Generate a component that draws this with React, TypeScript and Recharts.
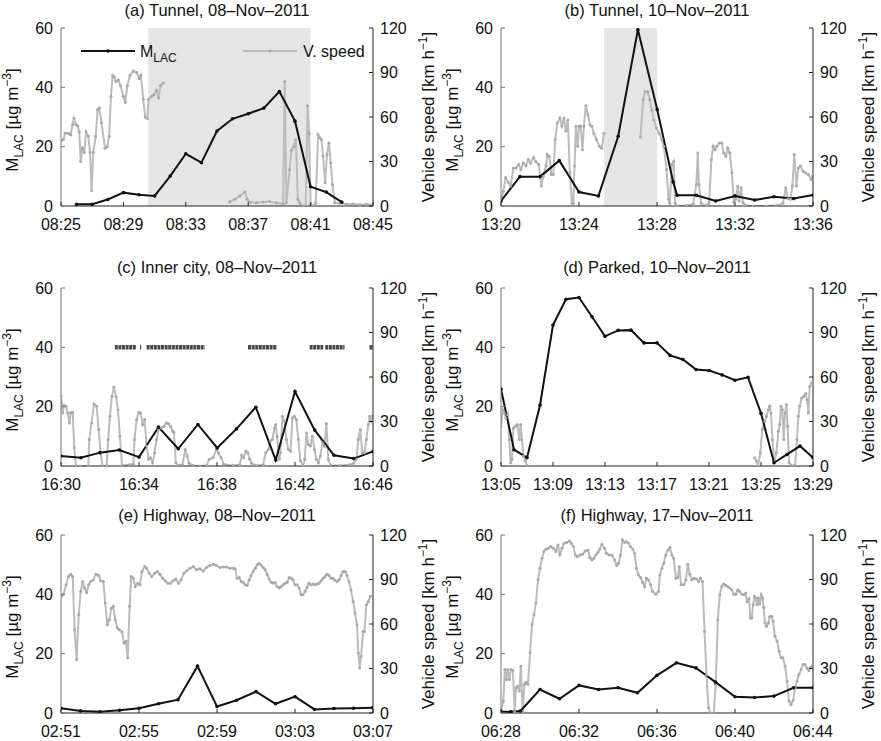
import React from 'react';
import { ComposedChart, Line, XAxis, YAxis, ReferenceArea } from 'recharts';

type Pt = [number, number];

const FONT = "'Liberation Sans', Arial, Helvetica, sans-serif";
const W = 440;
const H = 240;
const BLACK = '#111111';
const GRAY = '#bcbcbc';
const GRAY_DOT = '#a9a9a9';

// ---------- Panel (a) Tunnel 08-Nov-2011 ----------
const ticksA = [0, 4, 8, 12, 16, 20];
const labelsA = ['08:25', '08:29', '08:33', '08:37', '08:41', '08:45'];
const shadeA: Pt = [5.59, 15.99];
const mlacA: Pt[] = [[1,0.6],[2,0.6],[3,2.2],[4,4.5],[5,3.8],[6,3.4],[7,10.1],[8,17.6],[9,14.6],[10,25.3],[11,29.4],[12,31.1],[13,33],[14,38.6],[15,28.6],[16,6.5],[17,4.7],[18,1.3]];
const speedA1: Pt[] = [[0,43.7],[0.15,44.8],[0.26,49],[0.47,49],[0.62,48],[0.75,55],[0.83,59],[0.96,55],[1.07,54],[1.17,50],[1.26,30],[1.37,39],[1.49,36],[1.6,50],[1.75,47],[1.86,36],[1.96,10.5],[2.07,36],[2.22,47],[2.35,65],[2.45,66],[2.6,56],[2.82,39],[2.97,40],[3.09,47],[3.2,74],[3.31,88],[3.42,87],[3.52,84],[3.67,85],[3.82,81],[3.99,74],[4.12,70],[4.25,81],[4.42,88],[4.63,91],[4.85,90],[5.02,86],[5.12,88],[5.27,72],[5.4,60],[5.53,59],[5.61,72],[5.81,74],[5.96,75],[6.13,78],[6.25,73],[6.38,81],[6.55,83]];
const speedA2: Pt[] = [[10.82,2.9],[11.14,4.5],[11.46,6.7],[11.78,9.4],[11.93,4.5],[12.1,2.7],[12.53,2.2],[12.96,2.7],[13.38,3.1],[13.81,2],[14.24,1.6],[14.34,84],[14.45,2.2],[14.66,24.6],[14.77,37.6],[14.92,40],[15.05,44.8],[15.18,4.5],[15.3,2.2],[15.47,0],[15.69,0.4],[15.8,67.6],[15.9,49],[16.01,1],[16.16,0],[16.33,1.8],[16.48,48],[16.58,46],[16.69,44.8],[16.8,33.6],[16.93,15.7],[17.05,34.7],[17.18,42.5],[17.29,29],[17.4,14.5],[17.55,2.2],[17.87,1.8],[18.3,1.1],[18.72,1.3],[19.15,0.9],[19.57,1.1],[20,0.9]];

// ---------- Panel (b) Tunnel 10-Nov-2011 ----------
const ticksB = [0, 4, 8, 12, 16];
const labelsB = ['13:20', '13:24', '13:28', '13:32', '13:36'];
const shadeB: Pt = [5.29, 8.01];
const mlacB: Pt[] = [[0,1.7],[0.97,9.9],[2,9.9],[2.99,15.3],[4,4.7],[5,3.4],[6.01,23.5],[7.02,59.4],[8.01,32.5],[8.83,8.1],[9.03,3.6],[10.02,3.6],[11.01,1.7],[12,3.4],[13.01,2],[14,3.1],[15.01,2.5],[16,3.7]];
const speedB1: Pt[] = [[0,3.4],[0.12,10],[0.24,19],[0.38,16],[0.5,13.4],[0.63,25.7],[0.77,25.7],[0.91,28],[1.02,24.6],[1.14,29],[1.28,27],[1.4,31.3],[1.52,29],[1.66,32.5],[1.79,29.8],[1.93,28],[2.07,13.4],[2.17,20],[2.31,27.3],[2.37,34.7],[2.48,33.6],[2.58,21.3],[2.68,21.3],[2.78,44.8],[2.89,56],[3.02,59.3],[3.12,54],[3.23,59.3],[3.33,50.4],[3.43,58],[3.53,22.4],[3.64,1.8],[3.71,1.8],[3.77,27],[3.84,53.7],[3.93,40.3],[4,53.7],[4.08,54],[4.18,38],[4.25,53.7],[4.35,67.6],[4.46,61.6],[4.56,54.8],[4.66,53.7],[4.76,49],[4.9,44.8],[5.04,40.3],[5.17,39],[5.28,49]];
const speedB2: Pt[] = [[7.15,46.6],[7.29,71.6],[7.39,77],[7.53,77],[7.63,71.6],[7.74,64.5],[7.84,58],[7.97,52.6],[8.11,49],[8.25,44.8],[8.35,40.3],[8.49,24.6],[8.59,4.5],[8.66,1.8],[8.76,28],[8.86,30.2],[8.93,1.8],[9.03,0],[9.51,0.4],[9.85,1.1],[10.02,14.5],[10.09,35.8],[10.15,14.5],[10.26,1.8],[10.54,0.4],[10.67,1.8],[10.79,31.3],[10.88,40.3],[10.98,38],[11.08,40.3],[11.19,42.5],[11.32,42.5],[11.42,35.8],[11.53,33.6],[11.63,39],[11.73,35.8],[11.84,22.4],[11.94,2.7],[12.04,4.5],[12.14,13.4],[12.21,3.4],[12.31,12.3],[12.41,2.2],[12.55,0.4],[12.93,0],[13.6,0],[14.12,0.4],[14.46,1.8],[14.6,12.3],[14.72,4.9],[14.84,4.5],[14.94,13.4],[15.04,34.7],[15.15,13.4],[15.25,25.7],[15.35,26.9],[15.49,23.5],[15.62,22.4],[15.76,21.3],[15.9,17.9],[16,21.3]];

// ---------- Panel (c) Inner city 08-Nov-2011 ----------
const ticksC = [0, 4, 8, 12, 16];
const labelsC = ['16:30', '16:34', '16:38', '16:42', '16:46'];
const mlacC: Pt[] = [[0,3.35],[1.02,2.8],[2,4.5],[2.99,5.4],[4,3],[5,13.1],[6.01,5.8],[7.02,14],[8.01,6.1],[9,12.5],[9.99,19.8],[11.01,2],[12,25.1],[13.01,12.1],[14,3.6],[15.01,2.5],[16,4.9]];
const speedC: Pt[] = [[0,47],[0.09,35.8],[0.15,40.9],[0.26,40.2],[0.34,35.8],[0.43,29],[0.5,36],[0.6,36],[0.68,12.3],[0.77,0],[0.97,0],[1.4,0],[1.45,17.9],[1.57,29],[1.69,41.8],[1.83,40.2],[1.93,24.6],[2.03,8.9],[2.13,0],[2.34,0],[2.42,17.9],[2.51,33.5],[2.61,47],[2.71,53.2],[2.82,47],[2.92,38],[3.02,20],[3.13,0.4],[3.53,0.9],[3.71,1.1],[3.77,17.9],[3.88,31.3],[3.98,36.2],[4.08,35.8],[4.18,28],[4.29,31.3],[4.39,13.4],[4.49,4.5],[4.59,5.6],[4.7,2.2],[4.8,8.9],[4.9,17.9],[5,24.6],[5.14,25.7],[5.28,26.8],[5.41,29],[5.52,28.5],[5.62,26.8],[5.72,23.5],[5.79,22.8],[5.89,2.2],[6,0.4],[6.23,0.9],[6.37,11.2],[6.47,6.7],[6.57,1.8],[6.78,0.4],[7.12,0],[7.46,0.4],[7.6,4.5],[7.8,5.6],[7.97,11.2],[8.08,8.9],[8.21,5.6],[8.35,1.1],[8.83,0.4],[9.17,0.9],[9.27,7.2],[9.37,5.6],[9.48,10.1],[9.58,8.9],[9.68,4.5],[9.78,1.8],[10.02,0.4],[10.37,0.9],[10.5,8.9],[10.64,11.2],[10.74,16.8],[10.84,17.9],[10.95,25.7],[11.01,28],[11.08,20],[11.19,4.5],[11.25,8.9],[11.36,33.5],[11.46,30.2],[11.56,17.9],[11.66,11.2],[11.77,10.1],[11.87,32.4],[11.97,33.5],[12.07,31.3],[12.17,17.9],[12.28,3.4],[12.41,0.4],[12.5,4.5],[12.59,22.3],[12.69,14.5],[12.79,13.4],[12.89,20],[13,11.2],[13.1,4.5],[13.2,2.2],[13.3,6.7],[13.41,15.6],[13.51,13.4],[13.61,28.6],[13.71,4.5],[13.82,0.4],[14.29,0.4],[14.8,0.9],[15.01,1.8],[15.15,4.5],[15.25,17.9],[15.35,24.6],[15.45,8.9],[15.56,8.9],[15.66,17.9],[15.76,28],[15.83,33.5],[15.91,30.2],[16,35.8]];
// stretches of "x" markers drawn at M_LAC = 40 (start, end in minutes)
const markerBandsC: Pt[] = [[2.76,3.87],[4.05,4.11],[4.39,7.37],[9.59,11.08],[12.75,13.45],[13.55,14.54],[15.82,16]];
const markerLevelC = 40;

// ---------- Panel (d) Parked 10-Nov-2011 ----------
const ticksD = [0, 4, 8, 12, 16, 20, 24];
const labelsD = ['13:05', '13:09', '13:13', '13:17', '13:21', '13:25', '13:29'];
const mlacD: Pt[] = [[0,25.9],[1,5.5],[2,2.8],[3,20.5],[4,47.5],[5,56.2],[6,56.8],[7,50.3],[8,43.7],[9,45.7],[10,45.8],[11,41.5],[12,41.5],[13,37.3],[14,35.9],[15,32.5],[16,32.2],[17,30.7],[18,28.9],[19,29.9],[20,17.8],[21,1.1],[22,3.9],[23,6.7],[24,2.8]];
const speedD1: Pt[] = [[0,26.8],[0.13,38],[0.26,35.8],[0.38,32.4],[0.51,34.6],[0.64,17.9],[0.74,2.2],[0.85,4.5],[0.95,25.7],[1.1,26.8],[1.25,27.9],[1.41,17.9],[1.51,27.9],[1.61,17.9],[1.72,6.7],[1.87,3.4],[2.02,0.4]];
const speedD2: Pt[] = [[19.52,5.6],[19.65,3.4],[19.77,0],[19.95,8.9],[20.1,24.6],[20.29,30.2],[20.42,33.5],[20.57,38],[20.67,40.2],[20.77,35.8],[20.88,17.9],[21.03,2.2],[21.18,8.9],[21.34,23.5],[21.44,27.9],[21.54,40.2],[21.64,38],[21.75,17.9],[21.85,35.8],[21.95,41.3],[22.05,26.8],[22.16,2.2],[22.36,0.4],[22.62,0.4],[22.77,17.9],[22.87,33.5],[22.98,40.2],[23.13,45.8],[23.28,46.9],[23.44,48.7],[23.54,44.7],[23.64,35.8],[23.75,53.6],[23.9,55.9],[24,57]];

// ---------- Panel (e) Highway 08-Nov-2011 ----------
const ticksE = [0, 4, 8, 12, 16];
const labelsE = ['02:51', '02:55', '02:59', '03:03', '03:07'];
const mlacE: Pt[] = [[0,1.6],[1,0.7],[2,0.4],[3,0.9],[4,1.6],[5,3.1],[6,4.5],[7,15.8],[8,2.2],[9,4.3],[10,7.2],[11,3.1],[12,5.5],[13,1.2],[14,1.5],[15,1.6],[16,1.8]];
const speedE: Pt[] = [[0,78.6],[0.12,79.7],[0.26,86.4],[0.38,92],[0.5,93.6],[0.6,92],[0.7,56.2],[0.8,36],[0.91,66.3],[1.01,82],[1.11,88.6],[1.21,84.2],[1.31,81.3],[1.42,86.4],[1.52,88.6],[1.66,89.8],[1.79,93.6],[1.93,92.7],[2.03,89.1],[2.17,88.6],[2.27,74.1],[2.37,59.5],[2.48,62.9],[2.58,70.7],[2.68,71.9],[2.78,62.9],[2.89,57.3],[2.99,56.2],[3.13,54.6],[3.23,47.2],[3.33,48.4],[3.42,37.2],[3.52,71.9],[3.6,92],[3.71,90.9],[3.81,85.3],[3.94,87.5],[4.05,86.4],[4.15,95.4],[4.29,98.7],[4.39,97.6],[4.53,94.2],[4.66,92],[4.8,94.2],[4.94,95.4],[5.07,93.6],[5.21,90.9],[5.34,89.1],[5.48,87.5],[5.62,87.5],[5.75,89.1],[5.89,90.4],[6.03,87.5],[6.16,89.8],[6.3,94.2],[6.44,95.8],[6.61,97.6],[6.78,98.7],[6.95,96.5],[7.12,97.2],[7.29,95.8],[7.46,98.1],[7.63,99.4],[7.8,100.3],[7.97,99.4],[8.15,98.1],[8.32,98.5],[8.49,98.5],[8.66,97.6],[8.83,97.6],[8.93,97.2],[9.03,90.9],[9.14,91.3],[9.24,88.6],[9.34,88.2],[9.44,86.4],[9.55,86],[9.65,89.8],[9.75,92.7],[9.85,95.4],[9.96,97.6],[10.06,99.8],[10.16,101],[10.26,99.8],[10.37,98.1],[10.47,96.5],[10.57,93.6],[10.67,90.4],[10.78,88.2],[10.88,87.5],[10.98,88],[11.08,85.3],[11.19,84.2],[11.29,85.3],[11.39,86.4],[11.49,87.5],[11.6,88.2],[11.7,91.3],[11.8,90.9],[11.9,89.8],[12,86.4],[12.11,86.4],[12.21,84.2],[12.31,79.7],[12.41,79.7],[12.52,81.9],[12.62,84.6],[12.72,87.5],[12.82,86.4],[12.93,86.9],[13.03,86.4],[13.13,86.9],[13.23,87.5],[13.34,89.1],[13.44,90.9],[13.54,92],[13.64,93.6],[13.75,92.7],[13.85,90.9],[13.95,90.9],[14.05,89.5],[14.16,88.6],[14.26,89.8],[14.36,92.7],[14.46,95.4],[14.57,95.4],[14.67,92.7],[14.77,88.6],[14.87,83],[14.98,75.2],[15.08,67.4],[15.18,59.5],[15.25,40.5],[15.32,30.4],[15.39,38.3],[15.49,55],[15.56,55],[15.66,73],[15.76,75.2],[15.86,78.6],[16,79.7]];

// ---------- Panel (f) Highway 17-Nov-2011 ----------
const ticksF = [0, 4, 8, 12, 16];
const labelsF = ['06:28', '06:32', '06:36', '06:40', '06:44'];
const mlacF: Pt[] = [[0,0.4],[0.5,0.4],[1,0.7],[2,7.9],[3,4.8],[4,9.3],[5,7.9],[6,8.5],[7,6.8],[8,12.7],[9,16.9],[10,15.2],[11,10.4],[12,5.5],[13,5.2],[14,5.7],[15,8.5],[16,8.5]];
const speedF: Pt[] = [[0,0.9],[0.12,8],[0.2,29.3],[0.27,22.6],[0.34,29.3],[0.43,22.6],[0.51,29.3],[0.61,28.7],[0.7,0.9],[0.77,17],[0.85,18.1],[0.94,14.8],[1.02,31.6],[1.11,0.9],[1.2,19.3],[1.28,20.8],[1.38,19.3],[1.49,40.5],[1.59,59.5],[1.69,66.3],[1.79,74.1],[1.9,89.8],[2,97.6],[2.1,104.3],[2.2,108.8],[2.31,110.4],[2.42,111],[2.54,112.2],[2.68,111],[2.82,108.8],[2.92,113.3],[3.02,107],[3.13,111],[3.23,114.4],[3.36,115],[3.5,116],[3.6,114.4],[3.71,112.2],[3.81,106.6],[3.91,105.4],[4.05,106.6],[4.18,107],[4.32,109.2],[4.46,109.9],[4.56,104.8],[4.66,103.2],[4.76,104.3],[4.87,106.6],[4.97,108.3],[5.07,110.6],[5.17,113.7],[5.31,111],[5.41,107.7],[5.55,106.6],[5.69,106.6],[5.82,103.2],[5.93,99.4],[6.03,101],[6.13,106.6],[6.23,116.6],[6.34,115],[6.44,115.5],[6.54,114.4],[6.64,112.2],[6.75,110.6],[6.85,107.7],[6.95,97.6],[7.05,93.1],[7.16,91.3],[7.26,88],[7.36,85.3],[7.46,90.9],[7.56,89.8],[7.67,86.4],[7.77,81.9],[7.94,80.1],[8.08,81.9],[8.15,93.1],[8.25,97.6],[8.35,101],[8.45,106.6],[8.56,109.9],[8.66,111.5],[8.76,106.6],[8.86,104.3],[8.97,90.9],[9.07,91.3],[9.14,98.7],[9.24,86.4],[9.38,86.4],[9.48,89.8],[9.58,100.3],[9.68,93.6],[9.78,89.8],[9.89,90.9],[10.02,90.4],[10.13,88.6],[10.23,90.9],[10.33,88.6],[10.44,55],[10.54,25.7],[10.64,3.6],[10.74,0],[10.91,0],[11.01,18.8],[11.12,62.9],[11.22,79.7],[11.32,85.3],[11.42,86.9],[11.53,86],[11.63,85.3],[11.73,84.2],[11.84,83],[11.94,80.1],[12.04,80.1],[12.14,83],[12.24,81.9],[12.35,80.1],[12.45,79.7],[12.55,80.8],[12.62,75.2],[12.72,77],[12.79,64],[12.86,64],[12.93,73],[13,78.6],[13.06,77.5],[13.13,73],[13.2,77.5],[13.27,73.4],[13.34,79.7],[13.41,77.5],[13.47,71.2],[13.54,60.6],[13.61,58.4],[13.71,60.6],[13.78,65.1],[13.88,65.1],[13.95,61.8],[14.05,51.7],[14.16,48.4],[14.26,41.6],[14.36,37.2],[14.46,37.2],[14.57,31.6],[14.67,21.5],[14.77,8.1],[14.87,5.8],[14.98,8.5],[15.08,17],[15.18,21.5],[15.28,26],[15.39,29.3],[15.49,32.7],[15.59,32.7],[15.69,30.4],[15.79,28.7],[15.89,31],[16,32.7]];

const leftTicks = [0, 20, 40, 60];
const rightTicks = [0, 30, 60, 90, 120];

const toObj = (arr: Pt[]) => arr.map(([t, v]) => ({ t, v }));

function makeXTick(ticks: number[], labels: string[]) {
  return (props: any) => {
    const { x, y, payload } = props;
    const i = ticks.indexOf(payload.value);
    return (
      <g>
        <line x1={x} y1={y} x2={x} y2={y - 4} stroke="#222" strokeWidth={1} />
        <text x={x} y={y + 18} dy="0.35em" textAnchor="middle" fontSize={16} fill="#111" fontFamily={FONT}>
          {i >= 0 ? labels[i] : ''}
        </text>
      </g>
    );
  };
}

const LeftTick = (props: any) => {
  const { x, y, payload } = props;
  return (
    <g>
      <line x1={x} y1={y} x2={x + 4} y2={y} stroke="#777" strokeWidth={1} />
      <text x={x - 8} y={y} dy="0.35em" textAnchor="end" fontSize={16} fill="#111" fontFamily={FONT}>
        {payload.value}
      </text>
    </g>
  );
};

const RightTick = (props: any) => {
  const { x, y, payload } = props;
  return (
    <g>
      <line x1={x} y1={y} x2={x - 4} y2={y} stroke="#222" strokeWidth={1} />
      <text x={x + 7} y={y} dy="0.35em" textAnchor="start" fontSize={16} fill="#111" fontFamily={FONT}>
        {payload.value}
      </text>
    </g>
  );
};

type PanelProps = {
  left: number;
  top: number;
  titleY: number;
  title: string;
  xMax: number;
  ticks: number[];
  labels: string[];
  mlac: Pt[];
  speed: Pt[][];
  shade?: Pt;
  bands?: Pt[];
  bandLevel?: number;
  legend?: boolean;
};

const PLOT_L = 61;
const PLOT_R = 373;
const PLOT_T = 28;
const PLOT_B = 206;

function Panel(p: PanelProps) {
  const cx = (PLOT_L + PLOT_R) / 2;
  const cy = (PLOT_T + PLOT_B) / 2;
  const lx = 12;
  const ly = cy + 3;
  const rx = 428;
  const ry = cy;
  return (
    <div style={{ position: 'absolute', left: p.left, top: p.top, width: W, height: H }}>
      <ComposedChart width={W} height={H} margin={{ top: PLOT_T, right: 7, bottom: 4, left: 1 }}>
        <XAxis
          type="number"
          dataKey="t"
          domain={[0, p.xMax]}
          ticks={p.ticks}
          interval={0}
          allowDataOverflow
          height={30}
          tickSize={0}
          tickMargin={0}
          tickLine={false}
          axisLine={{ stroke: '#222', strokeWidth: 1 }}
          tick={makeXTick(p.ticks, p.labels)}
        />
        <YAxis
          yAxisId="l"
          orientation="left"
          width={60}
          domain={[0, 60]}
          ticks={leftTicks}
          interval={0}
          allowDataOverflow
          tickSize={0}
          tickMargin={0}
          tickLine={false}
          axisLine={{ stroke: '#777', strokeWidth: 1 }}
          tick={LeftTick}
        />
        <YAxis
          yAxisId="r"
          orientation="right"
          width={60}
          domain={[0, 120]}
          ticks={rightTicks}
          interval={0}
          allowDataOverflow
          tickSize={0}
          tickMargin={0}
          tickLine={false}
          axisLine={{ stroke: '#222', strokeWidth: 1 }}
          tick={RightTick}
        />
        {p.shade && (
          <ReferenceArea
            yAxisId="l"
            x1={p.shade[0]}
            x2={p.shade[1]}
            y1={0}
            y2={60}
            fill="#e5e5e5"
            fillOpacity={1}
            stroke="none"
          />
        )}
        {p.bands &&
          p.bands.map((b, i) => (
            <Line
              key={'band' + i}
              yAxisId="l"
              data={[{ t: b[0], v: p.bandLevel }, { t: b[1], v: p.bandLevel }]}
              dataKey="v"
              stroke="#4a4a4a"
              strokeWidth={4.5}
              strokeDasharray="3 0.6"
              dot={false}
              activeDot={false}
              isAnimationActive={false}
              legendType="none"
            />
          ))}
        {p.speed.map((seg, i) => (
          <Line
            key={'sp' + i}
            yAxisId="r"
            data={toObj(seg)}
            dataKey="v"
            stroke={GRAY}
            strokeWidth={2}
            dot={{ r: 1.5, fill: GRAY_DOT, stroke: 'none' }}
            activeDot={false}
            isAnimationActive={false}
          />
        ))}
        <Line
          yAxisId="l"
          data={toObj(p.mlac)}
          dataKey="v"
          stroke={BLACK}
          strokeWidth={2}
          dot={{ r: 1.8, fill: BLACK, stroke: 'none' }}
          activeDot={false}
          isAnimationActive={false}
        />
      </ComposedChart>
      <svg
        width={W}
        height={H}
        style={{ position: 'absolute', left: 0, top: 0, pointerEvents: 'none', overflow: 'visible' }}
        fontFamily={FONT}
      >
        <text x={cx} y={p.titleY} dy="0.35em" textAnchor="middle" fontSize={16.5} fill="#111">
          {p.title}
        </text>
        <text
          x={lx}
          y={ly}
          dy="0.35em"
          textAnchor="middle"
          fontSize={17}
          fill="#111"
          transform={`rotate(-90 ${lx} ${ly})`}
        >
          <tspan>M</tspan>
          <tspan fontSize={12} dy={5}>LAC</tspan>
          <tspan dy={-5}> [µg m</tspan>
          <tspan fontSize={12} dy={-7}>−3</tspan>
          <tspan dy={7}>]</tspan>
        </text>
        <text
          x={rx}
          y={ry}
          dy="0.35em"
          textAnchor="middle"
          fontSize={17}
          fill="#111"
          transform={`rotate(-90 ${rx} ${ry})`}
        >
          <tspan>Vehicle speed [km h</tspan>
          <tspan fontSize={12} dy={-7}>−1</tspan>
          <tspan dy={7}>]</tspan>
        </text>
        {p.legend && (
          <g>
            <line x1={81} y1={51} x2={135} y2={51} stroke={BLACK} strokeWidth={2} />
            <circle cx={108} cy={51} r={1.8} fill={BLACK} />
            <text x={140} y={51} dy="0.35em" fontSize={16} fill="#111">
              <tspan>M</tspan>
              <tspan fontSize={12} dy={5}>LAC</tspan>
            </text>
            <line x1={243} y1={51} x2={297} y2={51} stroke={GRAY} strokeWidth={2} />
            <circle cx={270} cy={51} r={1.5} fill={GRAY_DOT} />
            <text x={303} y={51} dy="0.35em" fontSize={16} fill="#111">
              V. speed
            </text>
          </g>
        )}
      </svg>
    </div>
  );
}

export default function App() {
  return (
    <div style={{ position: 'absolute', left: 0, top: 0, width: 881, height: 741, background: '#fff', overflow: 'hidden' }}>
      <Panel left={0} top={0} titleY={10} title="(a) Tunnel, 08–Nov–2011" xMax={20} ticks={ticksA} labels={labelsA}
        mlac={mlacA} speed={[speedA1, speedA2]} shade={shadeA} legend />
      <Panel left={440} top={0} titleY={10} title="(b) Tunnel, 10–Nov–2011" xMax={16} ticks={ticksB} labels={labelsB}
        mlac={mlacB} speed={[speedB1, speedB2]} shade={shadeB} />
      <Panel left={0} top={260} titleY={7} title="(c) Inner city, 08–Nov–2011" xMax={16} ticks={ticksC} labels={labelsC}
        mlac={mlacC} speed={[speedC]} bands={markerBandsC} bandLevel={markerLevelC} />
      <Panel left={440} top={260} titleY={7} title="(d) Parked, 10–Nov–2011" xMax={24} ticks={ticksD} labels={labelsD}
        mlac={mlacD} speed={[speedD1, speedD2]} />
      <Panel left={0} top={507} titleY={8} title="(e) Highway, 08–Nov–2011" xMax={16} ticks={ticksE} labels={labelsE}
        mlac={mlacE} speed={[speedE]} />
      <Panel left={440} top={507} titleY={8} title="(f) Highway, 17–Nov–2011" xMax={16} ticks={ticksF} labels={labelsF}
        mlac={mlacF} speed={[speedF]} />
    </div>
  );
}
